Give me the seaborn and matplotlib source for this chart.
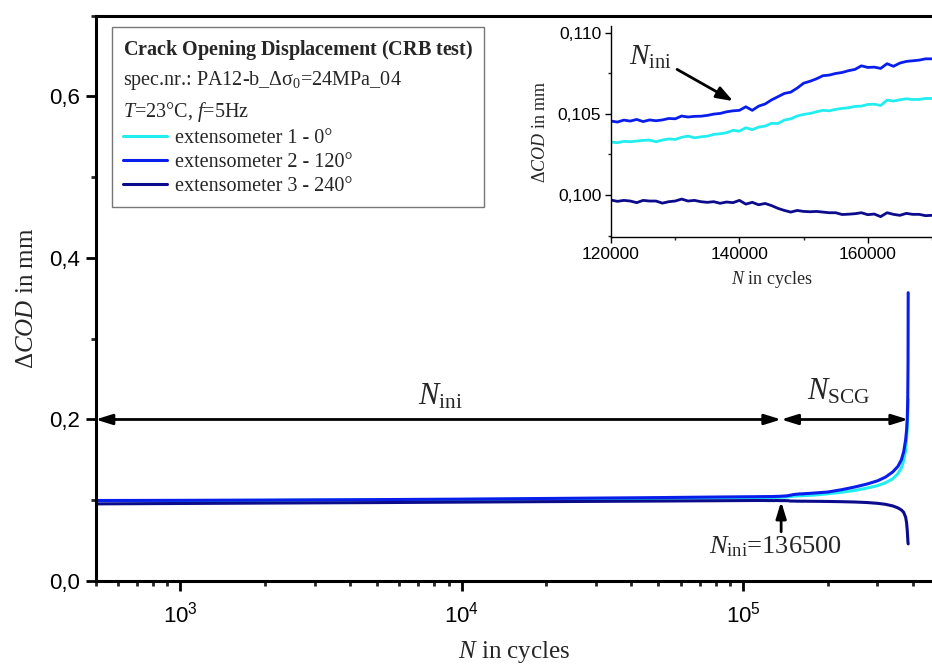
import numpy as np
import pandas as pd
import seaborn as sns
import matplotlib
matplotlib.use("Agg")
import matplotlib.pyplot as plt
from matplotlib.ticker import LogLocator, MultipleLocator, FuncFormatter, NullFormatter
from matplotlib.patches import ArrowStyle

# ---------------- data ----------------
# load cycles (thousands)
cycles_k = [0.5, 1, 2, 5, 10, 20, 50, 80, 100, 110,
            120, 121, 122, 123, 124, 125, 126, 127, 128, 129,
            130, 131, 132, 133, 134, 135, 136, 137, 138, 139,
            140, 141, 142, 143, 144, 145, 146, 147, 148, 149,
            150, 151, 152, 153, 154, 155, 156, 157, 158, 159,
            160, 161, 162, 163, 164, 165, 166, 167, 168, 169, 170,
            180, 200, 225, 250, 275, 300, 320, 340, 355, 365, 372, 378,
            381, 383, 384.5, 385.5, 386]

# extensometer 1 - 0 deg
cod_ext1 = [0.0994, 0.0996, 0.0999, 0.1004, 0.1009, 0.1015, 0.1023, 0.1028, 0.1030, 0.1031,
            0.10326, 0.10322, 0.10330, 0.10328, 0.10332, 0.10336, 0.10338, 0.10328, 0.10338, 0.10345,
            0.10342, 0.10355, 0.10363, 0.10352, 0.10358, 0.10362, 0.10373, 0.10377, 0.10383, 0.10398,
            0.10393, 0.10414, 0.10402, 0.10418, 0.10424, 0.10441, 0.10440, 0.10461, 0.10469, 0.10486,
            0.10496, 0.10502, 0.10512, 0.10521, 0.10518, 0.10527, 0.10533, 0.10537, 0.10545, 0.10547,
            0.10557, 0.10559, 0.10551, 0.10584, 0.10578, 0.10586, 0.10592, 0.10588, 0.10588, 0.10594, 0.10594,
            0.1065, 0.1080, 0.1100, 0.1122, 0.1150, 0.1180, 0.1215, 0.1265, 0.1330, 0.1400, 0.1490, 0.1620,
            0.1760, 0.1900, 0.2050, 0.2150, 0.2250]

# extensometer 2 - 120 deg
cod_ext2 = [0.0997, 0.0999, 0.1002, 0.1008, 0.1014, 0.1022, 0.1033, 0.1040, 0.1043, 0.1044,
            0.10455, 0.10449, 0.10461, 0.10455, 0.10465, 0.10452, 0.10462, 0.10457, 0.10462, 0.10471,
            0.10469, 0.10486, 0.10480, 0.10484, 0.10485, 0.10490, 0.10498, 0.10502, 0.10512, 0.10518,
            0.10521, 0.10543, 0.10521, 0.10547, 0.10560, 0.10585, 0.10605, 0.10625, 0.10633, 0.10658,
            0.10688, 0.10700, 0.10715, 0.10734, 0.10738, 0.10748, 0.10754, 0.10765, 0.10773, 0.10795,
            0.10785, 0.10787, 0.10779, 0.10808, 0.10792, 0.10812, 0.10822, 0.10826, 0.10830, 0.10838, 0.10838,
            0.1090, 0.1102, 0.1132, 0.1165, 0.1200, 0.1240, 0.1285, 0.1350, 0.1420, 0.1500, 0.1600, 0.1750,
            0.1870, 0.2000, 0.2250, 0.2700, 0.3570]

# extensometer 3 - 240 deg
cod_ext3 = [0.0955, 0.0960, 0.0965, 0.0971, 0.0977, 0.0983, 0.0990, 0.0994, 0.0996, 0.0997,
            0.09969, 0.09961, 0.09967, 0.09963, 0.09953, 0.09967, 0.09963, 0.09963, 0.09950, 0.09959,
            0.09963, 0.09975, 0.09963, 0.09967, 0.09959, 0.09955, 0.09959, 0.09949, 0.09957, 0.09953,
            0.09967, 0.09944, 0.09955, 0.09940, 0.09948, 0.09935, 0.09918, 0.09905, 0.09895, 0.09905,
            0.09899, 0.09897, 0.09899, 0.09895, 0.09891, 0.09891, 0.09880, 0.09882, 0.09885, 0.09891,
            0.09879, 0.09883, 0.09867, 0.09891, 0.09881, 0.09875, 0.09887, 0.09881, 0.09881, 0.09873, 0.09875,
            0.0987, 0.0985, 0.0982, 0.0978, 0.0972, 0.0962, 0.0950, 0.0930, 0.0905, 0.0880, 0.0850, 0.0790,
            0.0720, 0.0630, 0.0530, 0.0470, 0.0460]

sensor_labels = ["extensometer 1 - 0°", "extensometer 2 - 120°", "extensometer 3 - 240°"]
sensor_colors = ["#22EEF0", "#0A1EEB", "#0B0B8C"]

N_ini = 136500       # crack initiation
N_f = 386000         # final failure
arrow_level = 0.2    # height of the N_ini / N_SCG dimension arrows

main_yticks = [0.0, 0.2, 0.4, 0.6]
inset_xticks = [120000, 140000, 160000]
inset_yticks = [0.100, 0.105, 0.110]

cycles = [c * 1000 for c in cycles_k]
df = pd.DataFrame({
    "N": cycles * 3,
    "dCOD": cod_ext1 + cod_ext2 + cod_ext3,
    "sensor": [s for s in sensor_labels for _ in cycles],
})

# ---------------- style ----------------
sns.set_theme(style="ticks")
plt.rcParams["font.family"] = ["Liberation Sans", "DejaVu Sans"]
plt.rcParams["mathtext.fontset"] = "custom"
plt.rcParams["mathtext.rm"] = "Liberation Serif"
plt.rcParams["mathtext.it"] = "Liberation Serif:italic"
plt.rcParams["mathtext.bf"] = "Liberation Serif:bold"
SERIF = ["Liberation Serif", "DejaVu Serif"]

fig = plt.figure(figsize=(9.32, 6.65), dpi=100)
ax = fig.add_axes([0.1025, 0.1263, 0.8975, 0.8501])

sns.lineplot(data=df, x="N", y="dCOD", hue="sensor", hue_order=sensor_labels,
             palette=sensor_colors, estimator=None, sort=False, linewidth=2.2,
             legend=False, ax=ax)

ax.set_xscale("log")
ax.set_xlim(500, 4.69e5)
ax.set_ylim(0, 0.70)
ax.xaxis.set_major_locator(LogLocator(base=10, numticks=10))
ax.xaxis.set_minor_locator(LogLocator(base=10, subs=np.arange(2, 10), numticks=100))
ax.xaxis.set_minor_formatter(NullFormatter())
ax.set_yticks(main_yticks)
ax.yaxis.set_minor_locator(MultipleLocator(0.1))
ax.yaxis.set_major_formatter(FuncFormatter(lambda v, p: f"{v:.1f}".replace(".", ",")))

for side in ["left", "bottom", "top"]:
    ax.spines[side].set_linewidth(2.2)
    ax.spines[side].set_color("black")
ax.spines["right"].set_visible(False)
ax.tick_params(which="major", direction="out", length=7, width=2, labelsize=16,
               colors="black", top=False, right=False)
ax.tick_params(axis="x", which="major", pad=8)
ax.tick_params(axis="y", which="major", pad=4)
ax.tick_params(which="minor", direction="out", length=3.8, width=2,
               top=False, right=False)

ax.set_xlabel(r"$N$ in cycles", family=SERIF, fontsize=18, labelpad=8)
ax.set_ylabel(r"$\mathit{ΔCOD}$ in mm", family=SERIF, fontsize=18, labelpad=8)

# dimension arrows for the initiation and slow crack growth phases
dim_style = ArrowStyle("<|-|>", head_length=0.45, head_width=0.14)
ax.annotate("", xy=(500, arrow_level), xytext=(N_ini, arrow_level),
            arrowprops=dict(arrowstyle=dim_style, color="black", lw=2,
                            shrinkA=0, shrinkB=0, mutation_scale=22))
ax.annotate("", xy=(N_ini, arrow_level), xytext=(N_f, arrow_level),
            arrowprops=dict(arrowstyle=dim_style, color="black", lw=2,
                            shrinkA=0, shrinkB=0, mutation_scale=22))
ax.text(8400, 0.218, r"$N_{\mathrm{ini}}$", family=SERIF, fontsize=22,
        ha="center", va="baseline")
ax.text(219000, 0.2244, r"$N_{\mathrm{SCG}}$", family=SERIF, fontsize=22,
        ha="center", va="baseline")

# marker for the initiation cycle number
ax.annotate("", xy=(N_ini, 0.0983), xytext=(N_ini, 0.061),
            arrowprops=dict(arrowstyle=ArrowStyle("-|>", head_length=0.45, head_width=0.14),
                            color="black", lw=2, shrinkA=0, shrinkB=0, mutation_scale=22))
ax.text(130000, 0.0347, rf"$N_{{\mathrm{{ini}}}}$={N_ini}", family=SERIF, fontsize=19,
        ha="center", va="baseline")

# legend with test description
title = ("$\\mathbf{Crack\\ Opening\\ Displacement\\ (CRB\\ test)}$\n"
         "spec.nr.: PA12-b_Δσ$_0$=24MPa_04\n"
         "$T$=23°C, $f$=5Hz")
leg = ax.legend(handles=ax.lines[:3], labels=sensor_labels, loc="upper left",
                bbox_to_anchor=(0.0197, 0.980), borderaxespad=0, frameon=True,
                fancybox=False, framealpha=1, edgecolor="#777777",
                prop={"family": SERIF, "size": 14.5}, title=title,
                title_fontproperties={"family": SERIF, "size": 14.5},
                alignment="left", handlelength=2.2, handletextpad=0.4,
                labelspacing=0.25, borderpad=0.55)
leg.get_frame().set_linewidth(1.0)
leg.get_title().set_linespacing(1.45)

# ---------------- inset: zoom around N_ini ----------------
axin = fig.add_axes([0.6556, 0.6432, 0.3444, 0.3177])
sns.lineplot(data=df, x="N", y="dCOD", hue="sensor", hue_order=sensor_labels,
             palette=sensor_colors, estimator=None, sort=False, linewidth=2.0,
             legend=False, ax=axin)
axin.set_xlim(120000, 170000)
axin.set_ylim(0.0974, 0.1104)
axin.set_xticks(inset_xticks)
axin.set_yticks(inset_yticks)
axin.xaxis.set_minor_locator(MultipleLocator(10000))
axin.yaxis.set_minor_locator(MultipleLocator(0.0025))
axin.xaxis.set_major_formatter(FuncFormatter(lambda v, p: f"{v:.0f}"))
axin.yaxis.set_major_formatter(FuncFormatter(lambda v, p: f"{v:.3f}".replace(".", ",")))
axin.spines["top"].set_visible(False)
axin.spines["right"].set_visible(False)
for side in ["left", "bottom"]:
    axin.spines[side].set_linewidth(1.0)
    axin.spines[side].set_color("black")
axin.tick_params(which="major", direction="out", length=4, width=1, labelsize=12.5,
                 colors="black", pad=3)
axin.tick_params(which="minor", direction="out", length=2.5, width=1)
axin.set_xlabel(r"$N$ in cycles", family=SERIF, fontsize=13, labelpad=5)
axin.set_ylabel(r"$\mathit{ΔCOD}$ in mm", family=SERIF, fontsize=13, labelpad=6)

axin.annotate("", xy=(139020, 0.10578), xytext=(130290, 0.10773),
              arrowprops=dict(arrowstyle=ArrowStyle("-|>", head_length=0.5, head_width=0.18),
                              color="black", lw=2, shrinkA=0, shrinkB=0, mutation_scale=20))
axin.text(126080, 0.10804, r"$N_{\mathrm{ini}}$", family=SERIF, fontsize=21,
          ha="center", va="baseline")

fig.savefig("out.png", dpi=100)
